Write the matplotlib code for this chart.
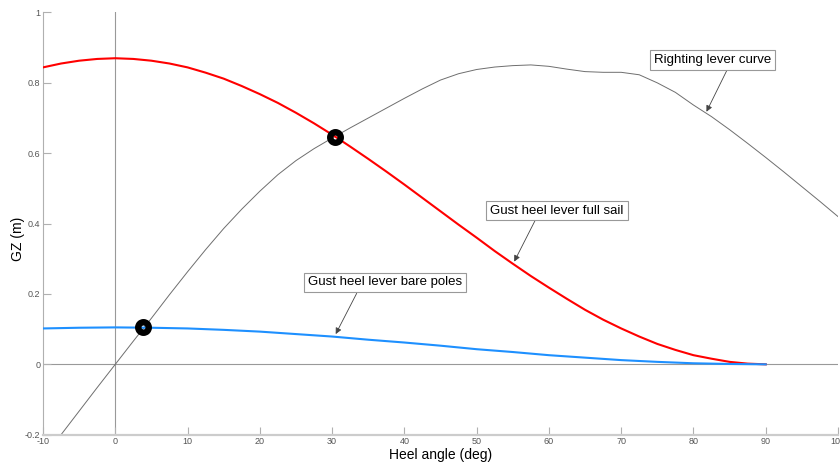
import matplotlib
matplotlib.use("Agg")
import matplotlib.pyplot as plt

plt.rcParams['font.family'] = ['Liberation Sans', 'DejaVu Sans']
plt.rcParams['axes.unicode_minus'] = False

# Righting lever curve (GZ)
gz_angle = [-10, -7.5, -5, -2.5, 0, 2.5, 5, 7.5, 10, 12.5, 15, 17.5, 20, 22.5, 25,
            27.5, 30, 32.5, 35, 37.5, 40, 42.5, 45, 47.5, 50, 52.5, 55, 57.5, 60,
            62.5, 65, 67.5, 70, 72.5, 75, 77.5, 80, 82.5, 85, 87.5, 90, 92.5, 95,
            97.5, 100]
gz_value = [-0.265, -0.200, -0.133, -0.066, 0.0, 0.066, 0.131, 0.198, 0.263, 0.326,
            0.386, 0.441, 0.492, 0.539, 0.579, 0.613, 0.643, 0.672, 0.700, 0.728,
            0.756, 0.783, 0.808, 0.826, 0.838, 0.845, 0.849, 0.851, 0.847, 0.839,
            0.832, 0.830, 0.830, 0.823, 0.800, 0.773, 0.737, 0.704, 0.667, 0.628,
            0.588, 0.547, 0.505, 0.463, 0.420]

# Gust heel lever, full sail
full_angle = [-10, -7.5, -5, -2.5, 0, 2.5, 5, 7.5, 10, 12.5, 15, 17.5, 20, 22.5,
              25, 27.5, 30, 32.5, 35, 37.5, 40, 42.5, 45, 47.5, 50, 52.5, 55,
              57.5, 60, 62.5, 65, 67.5, 70, 72.5, 75, 77.5, 80, 82.5, 85, 87.5, 90]
full_value = [0.844, 0.855, 0.863, 0.868, 0.870, 0.868, 0.863, 0.855, 0.844, 0.829,
              0.812, 0.791, 0.768, 0.743, 0.715, 0.685, 0.653, 0.619, 0.584, 0.548,
              0.511, 0.473, 0.435, 0.397, 0.360, 0.322, 0.286, 0.251, 0.218, 0.186,
              0.155, 0.127, 0.102, 0.079, 0.058, 0.041, 0.026, 0.016, 0.007, 0.002, 0.000]

# Gust heel lever, bare poles
bare_angle = [-10, -5, 0, 5, 10, 15, 20, 25, 30, 35, 40, 45, 50, 55, 60, 65, 70,
              75, 80, 85, 90]
bare_value = [0.102, 0.104, 0.105, 0.104, 0.102, 0.098, 0.093, 0.086, 0.079, 0.070,
              0.062, 0.053, 0.043, 0.035, 0.026, 0.019, 0.012, 0.007, 0.003, 0.001, 0.000]

# Intersection points
cross_angle = [3.85, 30.4]
cross_value = [0.107, 0.647]

xticks = [-10, 0, 10, 20, 30, 40, 50, 60, 70, 80, 90, 100]
yticks = [-0.2, 0, 0.2, 0.4, 0.6, 0.8, 1]
ytick_labels = ['-0.2', '0', '0.2', '0.4', '0.6', '0.8', '1']

fig = plt.figure(figsize=(8.4, 4.65), dpi=100)
ax = fig.add_axes([43/840, 1 - 434.7/465, (838 - 43)/840, (434.7 - 12.5)/465])
ax.set_xlim(-10, 100)
ax.set_ylim(-0.2, 1)

ax.axhline(0, color='#999999', lw=0.8, zorder=1)
ax.axvline(0, color='#999999', lw=0.8, zorder=1)

ax.plot(gz_angle, gz_value, color='#6e6e6e', lw=0.7, zorder=2)
ax.plot(full_angle, full_value, color='#ff0000', lw=1.5, zorder=3)
ax.plot(bare_angle, bare_value, color='#1e90ff', lw=1.5, zorder=3)
ax.plot(cross_angle, cross_value, linestyle='none', marker='o', ms=7.6, mew=4.6,
        mec='black', mfc='none', zorder=5)

for s in ['top', 'right']:
    ax.spines[s].set_visible(False)
ax.spines['left'].set_color('#b0b0b0')
ax.spines['left'].set_linewidth(0.8)
ax.spines['bottom'].set_color('#cccccc')
ax.spines['bottom'].set_linewidth(1.6)

ax.set_xticks(xticks)
ax.set_yticks(yticks)
ax.set_yticklabels(ytick_labels)
ax.tick_params(direction='in', length=5.5, width=0.8, color='#b0b0b0',
               labelsize=6.5, labelcolor='#555555', pad=2)

ax.set_xlabel('Heel angle (deg)', fontsize=10)
ax.xaxis.set_label_coords(0.5, -(447.5 - 434.7) / 422.2)
ax.set_ylabel('GZ (m)', fontsize=10)
ax.yaxis.set_label_coords(-(43 - 25) / 795, (434.7 - 239) / 422.2)

bbox = dict(boxstyle='square,pad=0.3', fc='white', ec='#999999', lw=0.8)
arrow = dict(arrowstyle='-|>', color='#444444', lw=0.6, mutation_scale=9,
             shrinkA=0, shrinkB=0)

# (text, arrow tip in data, box centre px, arrow start px)
ann = [
    ('Righting lever curve', (81.8, 0.718), (712.4, 60), (726.7, 70.7)),
    ('Gust heel lever full sail', (55.2, 0.292), (557, 210.5), (535, 220.7)),
    ('Gust heel lever bare poles', (30.5, 0.086), (384.6, 282.5), (356.7, 293.3)),
]
for txt, xy, (px, py), (sx, sy) in ann:
    ax.annotate('', xy=xy, xycoords='data',
                xytext=(sx / 840, 1 - sy / 465), textcoords='figure fraction',
                arrowprops=arrow, zorder=6)
    fig.text(px / 840, 1 - py / 465, txt, ha='center', va='center',
             fontsize=9.5, bbox=bbox, zorder=7)

fig.savefig('out.png', dpi=100)
